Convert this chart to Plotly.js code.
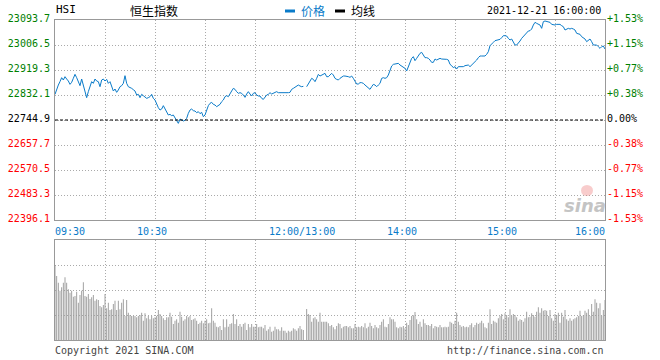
<!DOCTYPE html>
<html>
<head>
<meta charset="utf-8">
<script src="https://cdn.plot.ly/plotly-3.0.1.min.js"></script>
<style>html,body{margin:0;padding:0;background:#fff;}#chart{width:660px;height:360px;}</style>
</head>
<body>
<div id="chart"></div>
<script>
// ---------------- data ----------------
const tradeDate = "2021-12-21";
const indexCode = "HSI";
const indexName = "恒生指数";
const stampText = "2021-12-21 16:00:00";
const prevClose = 22744.9;

// one price per trading minute: 09:30..12:00, 13:01..16:00
const price = [
22834.4,22855.3,22866.9,22879.0,22892.5,22884.4,22896.0,22887.9,22880.9,22869.3,
22876.3,22890.2,22904.2,22892.5,22876.3,22864.6,22887.9,22866.9,22841.4,22822.8,
22843.7,22861.1,22878.6,22872.8,22887.9,22880.9,22878.6,22861.1,22884.4,22887.9,
22880.9,22886.7,22872.8,22878.6,22857.7,22846.0,22853.0,22841.4,22849.5,22861.1,
22864.6,22872.8,22899.5,22872.8,22861.1,22858.8,22855.3,22850.7,22846.0,22832.1,
22834.4,22822.8,22834.4,22829.7,22826.3,22820.4,22822.8,22826.3,22834.4,22820.4,
22814.6,22799.5,22787.9,22779.7,22783.2,22794.9,22785.6,22776.3,22762.3,22764.6,
22760.0,22762.3,22750.7,22741.4,22733.2,22748.4,22743.7,22741.4,22743.7,22750.7,
22768.1,22779.7,22783.2,22777.4,22776.3,22770.5,22773.9,22767.0,22771.6,22756.5,
22762.3,22779.7,22794.9,22803.0,22806.5,22799.5,22797.2,22791.4,22794.9,22799.5,
22808.8,22814.6,22826.3,22829.7,22826.3,22834.4,22846.0,22855.3,22851.8,22843.7,
22837.9,22840.2,22837.9,22832.0,22823.9,22835.5,22843.7,22835.5,22828.6,22837.9,
22840.2,22832.0,22828.6,22828.6,22820.4,22816.9,22826.2,22832.0,22834.4,22840.2,
22835.5,22837.9,22840.2,22843.7,22840.2,22840.2,22837.9,22840.2,22840.2,22840.2,
22840.2,22841.4,22851.8,22855.3,22858.8,22861.1,22866.9,22863.4,22861.1,22862.3,
22861.1,22861.1,22872.7,22884.4,22890.2,22886.7,22878.6,22890.2,22904.1,22898.3,
22901.8,22904.1,22907.6,22896.0,22896.0,22901.8,22907.6,22901.8,22890.2,22886.7,
22884.4,22890.2,22893.7,22898.3,22898.3,22898.3,22896.0,22893.7,22898.3,22890.2,
22878.6,22870.4,22870.4,22875.1,22875.1,22872.7,22866.9,22861.1,22858.8,22851.8,
22861.1,22869.2,22866.9,22861.1,22866.9,22872.7,22890.2,22892.5,22890.2,22892.5,
22901.8,22919.3,22933.2,22939.0,22940.2,22939.0,22942.5,22936.7,22933.2,22930.9,
22925.1,22915.8,22930.9,22942.5,22960.0,22965.8,22951.8,22960.0,22968.1,
22977.4,22980.9,22971.6,22962.3,22962.3,22960.0,22954.1,22946.0,22946.0,22957.6,
22954.1,22956.5,22960.0,22957.6,22957.6,22956.5,22956.5,22954.1,22939.0,22934.4,
22927.4,22930.9,22922.7,22930.9,22930.9,22930.9,22930.9,22934.4,22936.7,22936.7,
22930.9,22936.7,22940.2,22948.3,22954.1,22962.3,22968.1,22968.1,22969.3,22968.1,
22973.9,22983.2,23004.1,23008.8,23015.8,23021.6,23023.9,23023.9,23026.2,23032.0,
23039.0,23039.0,23037.9,23029.7,23023.9,23027.4,23018.1,23006.5,23006.5,23012.3,
23020.4,23029.7,23035.5,23043.7,23050.6,23055.3,23056.5,23062.3,23076.2,23085.5,
23082.0,23078.5,23076.2,23064.6,23087.9,23090.2,23087.9,23087.9,23085.5,23078.5,
23076.2,23076.2,23078.5,23078.5,23078.5,23073.9,23070.4,23058.8,23062.3,23064.6,
23062.3,23064.6,23062.3,23058.8,23047.2,23044.8,23043.7,23035.5,23032.0,23027.4,
23018.1,23023.9,23027.4,23018.1,23006.5,23006.5,23006.5,23000.6,22994.8,23000.6,23002.9,22992.5
];

// minute volume (relative units, panel top = 100)
const volume = [
75,64,57.3,49.3,52.7,57.3,62.7,57.3,50.7,47.3,
49.3,43.3,44,48.3,37.3,45,49.3,57.7,44,43.3,
46,41,42.7,45,39.3,40.7,40,34,32.7,35,
46,31.7,37.3,30,30.7,36,39.3,30,39.3,30.7,
37.3,40.7,24,40,27.3,25,24,24,24,22.7,
24,25,27.3,19.3,26.7,21.7,24,20.7,24,21.7,
22.7,24,30,26,24,21.7,20,22.7,22.7,27.3,
23.3,16,19.3,20.7,17.3,28.3,23.3,19.3,20.7,24,
22.7,24,20,20.7,21.7,19.3,16,17.3,19.3,16.7,
19.3,20.7,16.7,17.3,31.7,19.3,17.3,13.3,12.7,14,
10,20.7,12.7,20.7,13.3,16,16.7,26,16,20.7,
14,16,13.3,16,17.3,10,16,12.7,16,13.3,
13.3,16,12.7,13.3,13.3,11.7,15,9.3,10.7,13.3,
8.3,9.3,13.3,10.7,10.7,9.3,12.7,9.3,9.3,7.3,
9.3,8.3,9.3,11.7,10.7,9.3,11.7,14,10.7,10,
7.3,31,26,25,18.3,21.7,22.7,20.7,18.3,27.3,
18.3,18.3,18.3,18.3,16.7,14,
15,12.7,10.7,14,16.7,16,11.7,13.3,14,14,
12.7,14,11.7,11.7,16,12.7,13.3,12.7,14,12.7,
16.7,11.7,13.3,17.3,14,11.7,15,12.7,11.7,15,
18.3,20.7,13.3,12.7,16,22.7,20.7,20.7,18.3,12.7,
11.7,13.3,12.7,14,11.7,17.3,15,20,24,24.7,
28,20.7,16,18.3,13.3,20.7,16.7,15,15,14,
16,11.7,14,13.3,12.7,15,12.7,12.7,13.3,12.7,
13.3,18.3,17.3,16,19.3,27.3,18.3,15,13.3,14,
12.7,13.3,12.7,15,16.7,12.7,15,17.3,16,17.3,
19.3,16.7,12.7,11.7,17.3,30.7,16,19.3,18.3,17.3,
21.7,24,26,20.7,26.7,25,22.7,30.7,24,26,
25,22.7,19.3,20.7,20,18.3,21.7,28.3,22.7,23.3,
26.7,25,23.3,28.3,32.7,27.3,31.7,29.3,30,29.3,
24,30,21.7,19.3,26,25,27.3,17.3,27.3,23.3,
30,20.7,19.3,21.7,19.3,20.7,21.7,22.7,24,29.3,
24,25,29.3,27.3,30.7,24,36,28.3,40.7,37.3,
31.7,36.7,24,30,40
];

const priceTicks = [23093.7,23006.5,22919.3,22832.1,22744.9,22657.7,22570.5,22483.3,22396.1];
const priceLabels = ["23093.7","23006.5","22919.3","22832.1","22744.9","22657.7","22570.5","22483.3","22396.1"];
const pctLabels = ["+1.53%","+1.15%","+0.77%","+0.38%","0.00%","-0.38%","-0.77%","-1.15%","-1.53%"];
const gridTimes = ["10:00","10:30","11:00","11:30","12:00","13:30","14:00","14:30","15:00","15:30"];
const timeTickTimes = ["09:30","10:30","12:00","14:00","15:00","16:00"];
const timeTickLabels = ["09:30","10:30","12:00/13:00","14:00","15:00","16:00"];
const legendNames = ["价格","均线"];
const footerLeft = "Copyright 2021 SINA.COM";
const footerRight = "http://finance.sina.com.cn";

// ---------------- build ----------------
const BLUE = "#0a7bc9", GREEN = "#008000", RED = "#ff0000";
const MONO = "DejaVu Sans Mono, monospace";
const CJK = "Noto Sans CJK SC, sans-serif";

function pad(n){return (n<10?"0":"")+n;}
function minuteStamp(m){ // trading-minute index -> timestamp
  let t = m <= 150 ? 9*60+30+m : 13*60+(m-150);
  return tradeDate+" "+pad(Math.floor(t/60))+":"+pad(t%60);
}
const times = price.map((_,i)=>minuteStamp(i));
const vtimes = volume.map((_,i)=>minuteStamp(i));
const ts = s => tradeDate+" "+s;
function colorFor(i){ return i<4?GREEN:(i===4?"#000":RED); }
const leftText = priceLabels.map((t,i)=>'<span style="color:'+colorFor(i)+'">'+t+'</span>');
const rightText = pctLabels.map((t,i)=>'<span style="color:'+colorFor(i)+'">'+t+'</span>');

const px = x=>x/660, py = y=>1-y/360;
const DOM_X = [px(55), px(605)];
const grid = {showgrid:true, gridcolor:"#aaaaaa", griddash:"1px,2px", gridwidth:1,
  showline:true, mirror:true, linecolor:"#999999", linewidth:1, zeroline:false, ticks:""};
const xCommon = Object.assign({}, grid, {type:"date", domain:DOM_X,
  range:[ts("09:30"), ts("16:00")], rangebreaks:[{bounds:[12,13], pattern:"hour"}],
  tickmode:"array", tickvals:gridTimes.map(ts), showticklabels:false, fixedrange:true});

const traces = [
  {type:"scatter", mode:"lines", x:times, y:price, xaxis:"x", yaxis:"y",
   line:{color:BLUE, width:1}, hoverinfo:"skip"},
  {type:"scatter", mode:"lines", x:times, y:price, xaxis:"x", yaxis:"y2",
   line:{color:"rgba(0,0,0,0)", width:0}, hoverinfo:"skip"},
  {type:"bar", x:vtimes, y:volume, xaxis:"x2", yaxis:"y3",
   marker:{color:"#9c9c9c", line:{width:0}}, width:34000, hoverinfo:"skip"}
];

const ann = [];
ann.push({xref:"paper",yref:"paper",x:px(54),y:py(9),xanchor:"left",yanchor:"middle",showarrow:false,
  text:indexCode,font:{family:MONO,size:11,color:"#000"}});
ann.push({xref:"paper",yref:"paper",x:px(154),y:py(10),xanchor:"center",yanchor:"middle",showarrow:false,
  text:indexName,font:{family:CJK,size:12,color:"#000"}});
ann.push({xref:"paper",yref:"paper",x:px(299),y:py(10),xanchor:"left",yanchor:"middle",showarrow:false,
  text:legendNames[0],font:{family:CJK,size:12,color:BLUE}});
ann.push({xref:"paper",yref:"paper",x:px(349),y:py(10),xanchor:"left",yanchor:"middle",showarrow:false,
  text:legendNames[1],font:{family:CJK,size:12,color:"#000"}});
ann.push({xref:"paper",yref:"paper",x:px(603),y:py(10),xanchor:"right",yanchor:"middle",showarrow:false,
  text:stampText,font:{family:MONO,size:10,color:"#000"}});
timeTickTimes.forEach((t,i)=>{
  const last = i===timeTickTimes.length-1;
  ann.push({xref:"x",yref:"paper",x:ts(t),y:py(231),showarrow:false,yanchor:"middle",
    xanchor: i===0?"left":(last?"right":"center"), xshift: i===0?-2:(last?2:-3),
    text:timeTickLabels[i],font:{family:MONO,size:10,color:BLUE}});
});
ann.push({xref:"paper",yref:"paper",x:px(53),y:py(350),xanchor:"left",yanchor:"middle",showarrow:false,
  text:footerLeft,font:{family:MONO,size:10,color:"#444"}});
ann.push({xref:"paper",yref:"paper",x:px(606),y:py(350),xanchor:"right",yanchor:"middle",showarrow:false,
  text:footerRight,font:{family:MONO,size:10,color:"#444"}});
ann.push({xref:"paper",yref:"paper",x:px(585),y:py(205),xanchor:"center",yanchor:"middle",showarrow:false,
  text:"<b><i>sina</i></b>",font:{family:"DejaVu Sans, sans-serif",size:18,color:"#c4c4c4"}});

const shapes = [
  {type:"line",xref:"paper",yref:"y",x0:DOM_X[0],x1:DOM_X[1],y0:prevClose,y1:prevClose,
   line:{color:"#000",width:1,dash:"3px,2px"}},
  {type:"line",xref:"paper",yref:"paper",x0:px(285),x1:px(295),y0:py(11),y1:py(11),line:{color:BLUE,width:3}},
  {type:"line",xref:"paper",yref:"paper",x0:px(335),x1:px(345),y0:py(11),y1:py(11),line:{color:"#000",width:3}},
  {type:"circle",xref:"paper",yref:"paper",x0:px(581),x1:px(593),y0:py(196),y1:py(185),
   fillcolor:"rgba(235,110,110,0.35)",line:{width:0}}
];

const layout = {
  width:660, height:360, margin:{l:0,r:0,t:0,b:0},
  paper_bgcolor:"#fff", plot_bgcolor:"rgba(0,0,0,0)", showlegend:false,
  xaxis: Object.assign({}, xCommon, {anchor:"y"}),
  xaxis2: Object.assign({}, xCommon, {anchor:"y3", matches:"x"}),
  yaxis: Object.assign({}, grid, {domain:[py(220),py(20)], anchor:"x",
    range:[priceTicks[8],priceTicks[0]], tickmode:"array", tickvals:priceTicks, ticktext:leftText,
    tickfont:{family:MONO,size:10}, ticklabelstandoff:2, ticklabelshift:-2, fixedrange:true}),
  yaxis2: {overlaying:"y", side:"right", anchor:"x", range:[priceTicks[8],priceTicks[0]],
    tickmode:"array", tickvals:priceTicks, ticktext:rightText, showgrid:false, zeroline:false,
    showline:false, ticks:"", tickfont:{family:MONO,size:10}, ticklabelstandoff:1, ticklabelshift:-2, fixedrange:true},
  yaxis3: Object.assign({}, grid, {domain:[py(340),py(240)], anchor:"x2", range:[0,100],
    tickmode:"array", tickvals:[25,50,75], showticklabels:false, fixedrange:true}),
  annotations: ann, shapes: shapes
};

Plotly.newPlot("chart", traces, layout, {staticPlot:true, displayModeBar:false});
</script>
</body>
</html>
